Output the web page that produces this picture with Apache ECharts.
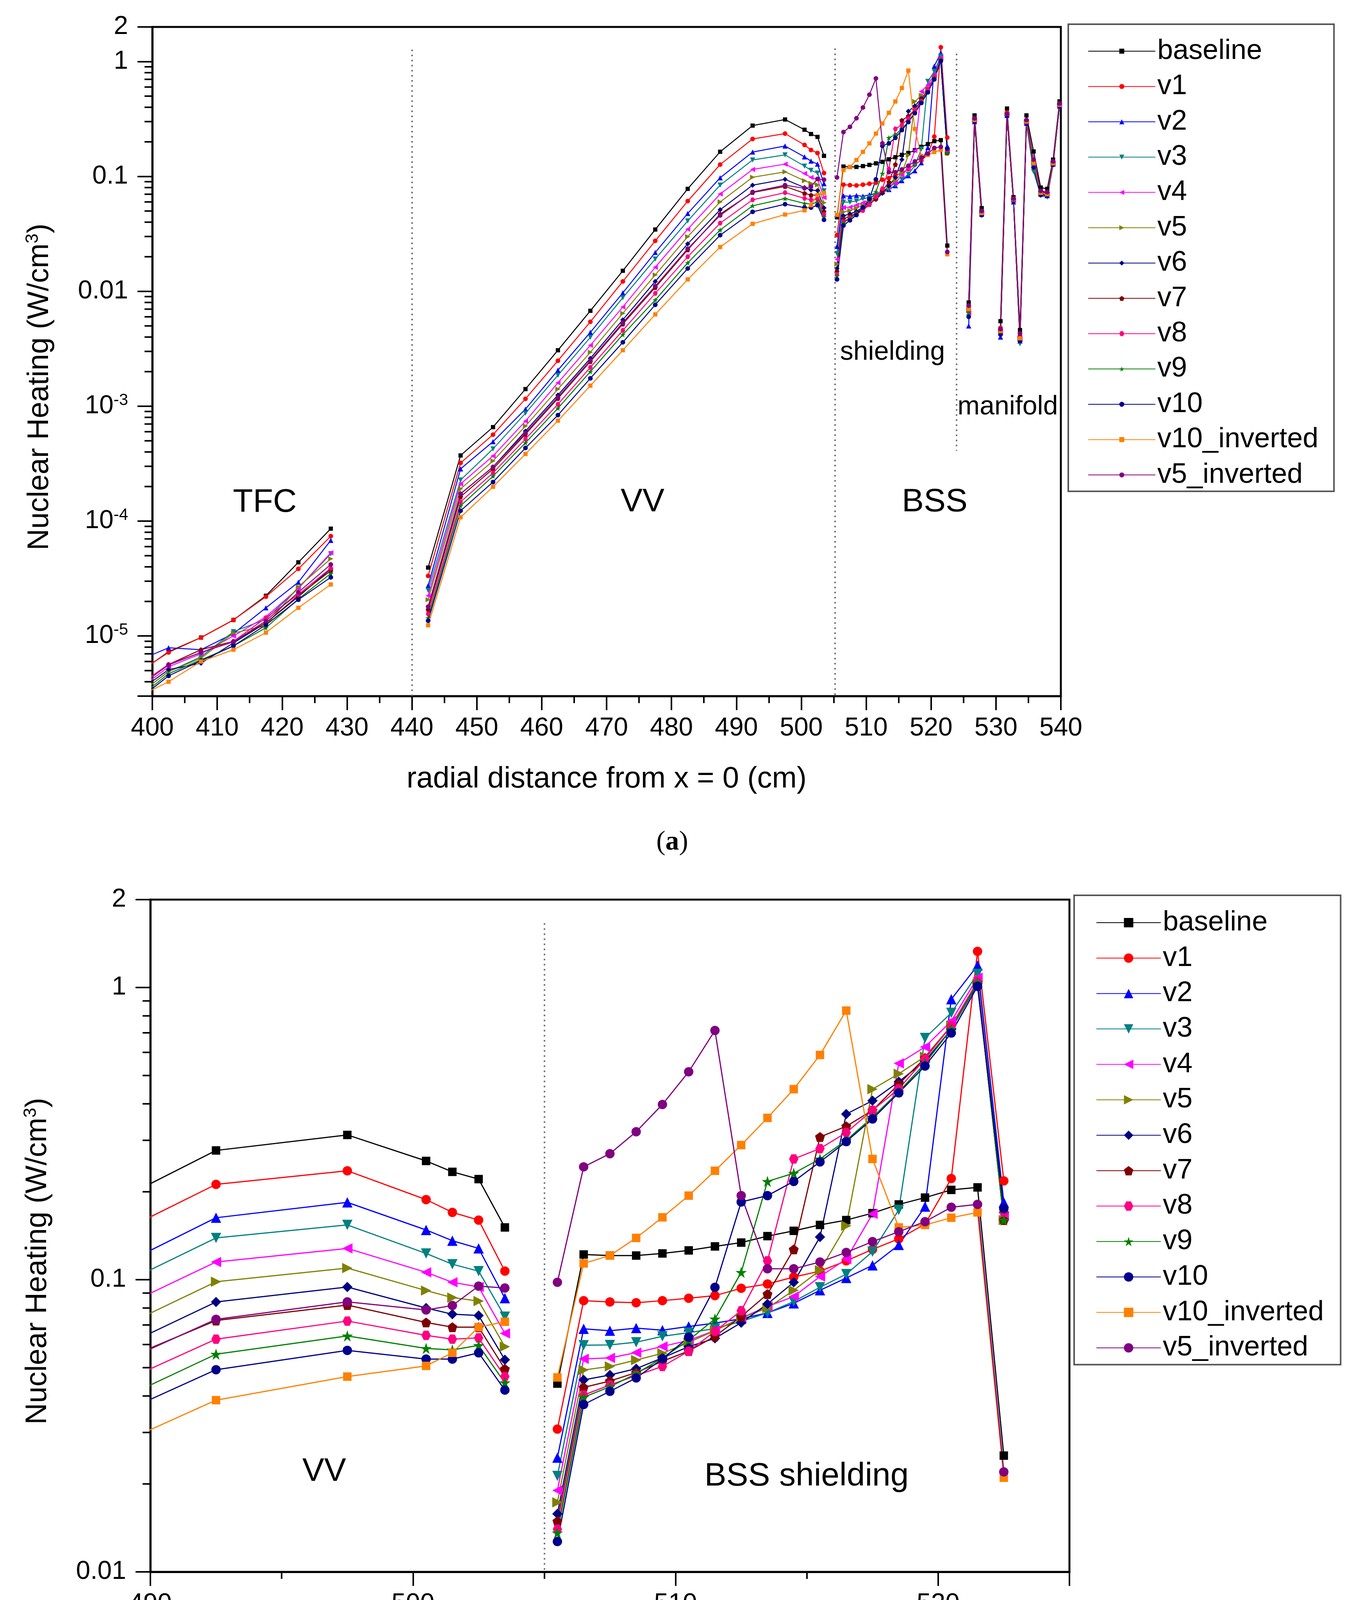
<!DOCTYPE html>
<html>
<head>
<meta charset="utf-8">
<script src="https://cdn.jsdelivr.net/npm/echarts@6/dist/echarts.min.js"></script>
<style>
html,body{margin:0;padding:0;background:#fff;}
#ca,#cb{position:absolute;left:0;top:0;width:3487px;height:4430px;}
</style>
</head>
<body>
<div id="ca"></div>
<div id="cb"></div>
<script>
// ---------------- DATA ----------------
const SERIES_NAMES = ['baseline','v1','v2','v3','v4','v5','v6','v7','v8','v9','v10','v10_inverted','v5_inverted'];

// radial positions (cm); null values in the series at the gap positions break the lines
const X_POS = [
  397.5,402.5,407.5,412.5,417.5,422.5,427.5,            // TFC
  435,                                                  // gap
  442.5,447.5,452.5,457.5,462.5,467.5,472.5,477.5,482.5,487.5,492.5,497.5,500.5,501.5,502.5,503.5, // VV
  504.5,                                                // gap
  505.5,506.5,507.5,508.5,509.5,510.5,511.5,512.5,513.5,514.5,515.5,516.5,517.5,518.5,519.5,520.5,521.5,522.5, // BSS shielding
  524.2,                                                // gap
  525.8,526.7,527.8,                                    // manifold
  529.2,                                                // gap
  530.7,531.7,532.7,533.7,534.7,535.8,536.9,537.9,538.8,539.8
];

const baseline = [
  4.6e-6,7.3e-6,9.7e-6,1.38e-5,2.24e-5,4.38e-5,8.6e-5, null,
  3.94e-5,3.73e-4,6.58e-4,1.41e-3,3.07e-3,6.77e-3,1.51e-2,3.45e-2,7.8e-2,0.164,0.277,0.313,0.255,0.234,0.221,0.151, null,
  0.0441,0.122,0.121,0.121,0.123,0.126,0.130,0.134,0.141,0.147,0.154,0.160,0.169,0.181,0.191,0.203,0.207,0.025, null,
  8.0e-3,0.34,0.053, null,
  5.5e-3,0.39,0.066,4.6e-3,0.34,0.165,0.080,0.078,0.14,0.45
];
const v1 = [
  4.7e-6,7.2e-6,9.7e-6,1.38e-5,2.2e-5,3.84e-5,7.4e-5, null,
  3.34e-5,3.21e-4,5.66e-4,1.16e-3,2.49e-3,5.43e-3,1.22e-2,2.75e-2,6.1e-2,0.127,0.212,0.236,0.188,0.170,0.160,0.107, null,
  0.0308,0.0848,0.0839,0.0834,0.0848,0.0864,0.0882,0.0935,0.0967,0.1021,0.107,0.116,0.127,0.138,0.155,0.222,1.33,0.218, null,
  7.5e-3,0.32,0.05, null,
  4.8e-3,0.36,0.064,4.1e-3,0.31,0.14,0.075,0.073,0.135,0.43
];
const v2 = [
  6.0e-6,7.9e-6,7.6e-6,1.05e-5,1.76e-5,2.94e-5,6.8e-5, null,
  2.74e-5,2.85e-4,4.92e-4,9.44e-4,2.06e-3,4.4e-3,9.7e-3,2.18e-2,4.76e-2,0.0974,0.163,0.184,0.148,0.136,0.128,0.0865, null,
  0.0246,0.0679,0.0669,0.0683,0.0672,0.0692,0.071,0.0735,0.077,0.083,0.092,0.1014,0.112,0.1315,0.178,0.912,1.19,0.184, null,
  5.0e-3,0.30,0.047, null,
  4.0e-3,0.34,0.060,3.7e-3,0.29,0.125,0.070,0.068,0.128,0.41
];
const v3 = [
  3.0e-6,4.9e-6,6.6e-6,1.09e-5,1.4e-5,2.6e-5,5.2e-5, null,
  2.5e-5,2.28e-4,4.25e-4,8.7e-4,1.86e-3,3.98e-3,8.8e-3,1.91e-2,4.1e-2,0.084,0.139,0.154,0.123,0.113,0.107,0.0747, null,
  0.0213,0.0597,0.0598,0.0611,0.064,0.0659,0.068,0.072,0.077,0.0842,0.0942,0.1045,0.1247,0.1734,0.672,0.819,1.114,0.17, null,
  6.0e-3,0.30,0.046, null,
  4.3e-3,0.34,0.061,3.5e-3,0.29,0.11,0.068,0.066,0.125,0.41
];
const v4 = [
  3.3e-6,5.4e-6,7.0e-6,1.0e-5,1.47e-5,2.6e-5,5.3e-5, null,
  2.24e-5,2.11e-4,3.69e-4,7.42e-4,1.6e-3,3.39e-3,7.3e-3,1.62e-2,3.47e-2,0.0703,0.115,0.128,0.106,0.098,0.0945,0.0655, null,
  0.019,0.0536,0.054,0.0563,0.0591,0.062,0.067,0.074,0.081,0.0876,0.1025,0.1176,0.168,0.55,0.626,0.768,1.08,0.165, null,
  6.5e-3,0.31,0.048, null,
  4.4e-3,0.35,0.062,3.8e-3,0.30,0.125,0.070,0.070,0.13,0.42
];
const v5 = [
  3.0e-6,4.9e-6,6.4e-6,1.06e-5,1.23e-5,2.68e-5,4.7e-5, null,
  2.07e-5,1.91e-4,3.34e-4,6.72e-4,1.41e-3,2.95e-3,6.43e-3,1.39e-2,2.99e-2,0.060,0.0984,0.1096,0.0918,0.0869,0.0845,0.059, null,
  0.0173,0.0491,0.0505,0.0531,0.056,0.061,0.067,0.074,0.080,0.092,0.1077,0.153,0.449,0.507,0.58,0.74,1.03,0.16, null,
  6.8e-3,0.31,0.049, null,
  4.5e-3,0.35,0.063,3.9e-3,0.30,0.13,0.072,0.071,0.13,0.42
];
const v6 = [
  3.2e-6,5.1e-6,5.8e-6,8.7e-6,1.3e-5,2.2e-5,3.85e-5, null,
  1.8e-5,1.73e-4,2.96e-4,6.08e-4,1.25e-3,2.61e-3,5.65e-3,1.22e-2,2.59e-2,0.0513,0.0839,0.0944,0.080,0.0762,0.0754,0.0532, null,
  0.0158,0.0454,0.0472,0.0496,0.054,0.059,0.063,0.0713,0.0826,0.098,0.140,0.369,0.41,0.476,0.56,0.72,1.03,0.17, null,
  7.0e-3,0.31,0.049, null,
  4.6e-3,0.35,0.063,4.0e-3,0.30,0.13,0.073,0.072,0.132,0.42
];
const v7 = [
  3.6e-6,5.65e-6,7.6e-6,9.0e-6,1.3e-5,2.25e-5,3.7e-5, null,
  1.7e-5,1.63e-4,2.85e-4,5.7e-4,1.17e-3,2.45e-3,5.2e-3,1.08e-2,2.3e-2,0.047,0.0725,0.0819,0.0714,0.0688,0.0688,0.0495, null,
  0.0149,0.0428,0.045,0.0481,0.0526,0.057,0.064,0.0748,0.0893,0.127,0.308,0.335,0.38,0.467,0.574,0.738,1.04,0.16, null,
  7.2e-3,0.31,0.05, null,
  4.6e-3,0.35,0.064,4.0e-3,0.30,0.135,0.074,0.072,0.133,0.42
];
const v8 = [
  3.6e-6,5.65e-6,7.2e-6,9.0e-6,1.44e-5,2.3e-5,3.9e-5, null,
  1.56e-5,1.47e-4,2.63e-4,5.18e-4,1.04e-3,2.18e-3,4.57e-3,9.6e-3,2.0e-2,0.0392,0.0626,0.0722,0.0645,0.0626,0.0632,0.0466, null,
  0.014,0.0403,0.0436,0.047,0.0505,0.0569,0.0666,0.0783,0.116,0.259,0.281,0.319,0.38,0.45,0.57,0.74,1.05,0.17, null,
  6.9e-3,0.31,0.049, null,
  4.5e-3,0.35,0.063,3.9e-3,0.30,0.13,0.072,0.071,0.13,0.42
];
const v9 = [
  2.8e-6,4.7e-6,6.2e-6,8.2e-6,1.18e-5,2.1e-5,3.5e-5, null,
  1.44e-5,1.36e-4,2.46e-4,4.8e-4,9.6e-4,2.0e-3,4.2e-3,8.4e-3,1.77e-2,0.0342,0.0556,0.0642,0.0582,0.0575,0.0596,0.0444, null,
  0.0136,0.0396,0.043,0.0477,0.054,0.0621,0.0734,0.106,0.217,0.2314,0.259,0.30,0.36,0.44,0.55,0.72,1.04,0.16, null,
  6.6e-3,0.31,0.048, null,
  4.4e-3,0.35,0.062,3.8e-3,0.30,0.125,0.070,0.069,0.128,0.42
];
const v10 = [
  2.7e-6,4.5e-6,6.1e-6,8.2e-6,1.25e-5,2.07e-5,3.24e-5, null,
  1.36e-5,1.23e-4,2.19e-4,4.33e-4,8.37e-4,1.75e-3,3.6e-3,7.64e-3,1.58e-2,0.0308,0.0492,0.0573,0.0535,0.0535,0.0562,0.0419, null,
  0.0127,0.0374,0.0415,0.0461,0.0536,0.0636,0.0942,0.1846,0.194,0.217,0.253,0.297,0.355,0.436,0.539,0.699,1.01,0.175, null,
  6.0e-3,0.30,0.046, null,
  4.2e-3,0.34,0.061,3.7e-3,0.29,0.12,0.069,0.068,0.127,0.41
];
const v10_inverted = [
  2.9e-6,4.0e-6,6.0e-6,7.6e-6,1.07e-5,1.76e-5,2.81e-5, null,
  1.24e-5,1.08e-4,1.99e-4,3.84e-4,7.48e-4,1.51e-3,3.07e-3,6.3e-3,1.27e-2,0.0243,0.0387,0.0466,0.0507,0.0562,0.0688,0.0718, null,
  0.0463,0.1137,0.121,0.139,0.1635,0.194,0.236,0.289,0.358,0.449,0.588,0.834,0.259,0.151,0.154,0.163,0.17,0.021, null,
  7.0e-3,0.31,0.048, null,
  4.5e-3,0.35,0.063,3.9e-3,0.30,0.13,0.072,0.070,0.13,0.42
];
const v5_inverted = [
  3.5e-6,5.6e-6,7.2e-6,8.9e-6,1.35e-5,2.4e-5,4.2e-5, null,
  1.8e-5,1.73e-4,2.96e-4,5.85e-4,1.2e-3,2.5e-3,5.35e-3,1.11e-2,2.35e-2,0.0458,0.0732,0.0840,0.0788,0.0816,0.0951,0.0937, null,
  0.098,0.2434,0.270,0.321,0.398,0.515,0.713,0.194,0.109,0.109,0.115,0.124,0.135,0.146,0.158,0.177,0.181,0.022, null,
  7.5e-3,0.32,0.05, null,
  4.7e-3,0.35,0.064,4.3e-3,0.31,0.14,0.075,0.073,0.135,0.43
];
const SERIES_VALUES = [baseline,v1,v2,v3,v4,v5,v6,v7,v8,v9,v10,v10_inverted,v5_inverted];

// axis tick values
const X_TICKS_A = [400,410,420,430,440,450,460,470,480,490,500,510,520,530,540];
const X_TICKS_B = [490,500,510,520];
const Y_MAJOR_LABELS = {'2':'2','1':'1','0.1':'0.1','0.01':'0.01'};

// ---------------- STYLE ----------------
const FONT = 'Liberation Sans, Arial, Helvetica, sans-serif';
const COLORS = ['#000000','#FF0000','#0000FF','#008080','#FF00FF','#808000','#000080','#800000','#FF0080','#008000','#00008C','#FF8000','#800080'];
const SYMBOLS = [
  'rect','circle','triangle',
  'path://M0,0L10,0L5,9Z',
  'path://M9,0L9,10L0,5Z',
  'path://M0,0L0,10L9,5Z',
  'diamond',
  'path://M5,0L10,3.6L8.1,9.5L1.9,9.5L0,3.6Z',
  'path://M2.5,0L7.5,0L10,5L7.5,10L2.5,10L0,5Z',
  'path://M5,0L6.2,3.6L10,3.6L6.9,5.9L8.1,9.5L5,7.3L1.9,9.5L3.1,5.9L0,3.6L3.8,3.6Z',
  'circle','rect','circle'
];
const SYMBOL_SCALE = [0.9,1,1.1,1.1,1.1,1.1,1.1,1.05,1,1.2,1,0.9,1];

for (const arr of SERIES_VALUES) { if (arr.length !== X_POS.length) console.error('length mismatch', arr.length); }

function yFmt(v) {
  if (Math.abs(v - 2) < 1e-6) return '2';
  const e = Math.log10(v), r = Math.round(e);
  if (Math.abs(e - r) > 1e-6) return '';
  const key = String(Math.pow(10, r) >= 0.01 ? +Math.pow(10, r).toFixed(2) : '');
  if (Y_MAJOR_LABELS[key]) return Y_MAJOR_LABELS[key];
  return '{b|10}{s|' + r + '}';
}

function minorTickValues(minExp, maxExp) {
  const out = [];
  for (let e = minExp; e <= maxExp; e++) for (let m = 2; m <= 9; m++) out.push(m * Math.pow(10, e));
  return out;
}

function buildOption(cfg) {
  const series = [];
  SERIES_NAMES.forEach((name, i) => {
    series.push({
      type: 'line', name: name,
      data: X_POS.map((x, k) => [x, SERIES_VALUES[i][k] == null ? NaN : SERIES_VALUES[i][k]]),
      symbol: SYMBOLS[i], symbolSize: cfg.sym * SYMBOL_SCALE[i],
      lineStyle: { color: COLORS[i], width: cfg.lw },
      itemStyle: { color: COLORS[i] },
      connectNulls: false, clip: true, animation: false, z: 3,
      emphasis: { disabled: true },
      markLine: i === 0 ? {
        symbol: 'none', silent: true, animation: false,
        label: { show: false },
        lineStyle: { color: '#707070', type: [4, 9], width: 4 },
        emphasis: { disabled: true },
        data: cfg.vlines.map(l => [{ coord: [l[0], l[1]] }, { coord: [l[0], l[2]] }])
      } : undefined
    });
  });
  // minor ticks of the log axis
  series.push({
    type: 'custom', silent: true, clip: false, animation: false, z: 10,
    data: minorTickValues(cfg.minorExp[0], cfg.minorExp[1]).filter(v => v > cfg.ymin && v < cfg.ymax).map(v => [cfg.xmin, v]),
    renderItem: function (p, api) {
      const c = api.coord([api.value(0), api.value(1)]);
      return { type: 'line', shape: { x1: c[0] - 20, y1: c[1], x2: c[0], y2: c[1] }, style: { stroke: '#000', lineWidth: 4 } };
    }
  });

  const textEls = cfg.texts.map(t => ({
    type: 'text', x: t[1], y: t[2], silent: true,
    style: { text: t[0], fill: '#000', fontSize: t[3], fontFamily: FONT, align: 'center', verticalAlign: 'middle' }
  }));
  textEls.push({
    type: 'text', x: cfg.caption[1], y: cfg.caption[2], silent: true,
    style: {
      text: '{p|(}{b|' + cfg.caption[0] + '}{p|)}', align: 'center', verticalAlign: 'middle',
      rich: {
        p: { fontSize: 70, fontFamily: 'Liberation Serif, Times New Roman, serif', fill: '#000' },
        b: { fontSize: 70, fontFamily: 'Liberation Serif, Times New Roman, serif', fontWeight: 'bold', fill: '#000' }
      }
    }
  });

  return {
    backgroundColor: cfg.bg,
    animation: false,
    grid: { left: cfg.grid[0], top: cfg.grid[1], width: cfg.grid[2], height: cfg.grid[3],
            show: true, borderColor: '#000', borderWidth: 5, backgroundColor: 'transparent', containLabel: false },
    legend: {
      orient: 'vertical', left: cfg.legend.left, top: cfg.legend.top,
      padding: cfg.legend.padding, itemGap: cfg.legend.gap,
      itemWidth: cfg.legend.itemWidth, itemHeight: cfg.legend.itemHeight,
      borderColor: '#555', borderWidth: 4, backgroundColor: '#fff',
      selectedMode: false,
      data: SERIES_NAMES,
      textStyle: { fontSize: 72, fontFamily: FONT, color: '#000', lineHeight: 72 }
    },
    xAxis: {
      type: 'value', min: cfg.xmin, max: cfg.xmax, interval: 10,
      name: 'radial distance from x = 0 (cm)', nameLocation: 'middle', nameGap: cfg.xNameGap,
      nameTextStyle: { fontSize: 76, fontFamily: FONT, color: '#000' },
      axisLine: { lineStyle: { color: '#000', width: 5 } },
      axisTick: { inside: false, length: 36, lineStyle: { color: '#000', width: 4 } },
      minorTick: { show: true, splitNumber: 2, length: 18, lineStyle: { color: '#000', width: 4 } },
      splitLine: { show: false }, minorSplitLine: { show: false },
      axisLabel: { margin: 50, fontSize: 66, fontFamily: FONT, color: '#000',
        formatter: v => (cfg.xTicks.indexOf(Math.round(v)) >= 0 && Math.abs(v - Math.round(v)) < 1e-6) ? String(Math.round(v)) : '' }
    },
    yAxis: {
      type: 'log', logBase: 10, min: cfg.ymin, max: cfg.ymax,
      name: '{n|Nuclear Heating (W/cm}{s|3}{n|)}', nameLocation: 'middle', nameRotate: 90, nameGap: cfg.yNameGap,
      nameTextStyle: { fontSize: 76, fontFamily: FONT, color: '#000', padding: [0, 130, 0, 0],
        rich: { n: { fontSize: 76, lineHeight: 76, fontFamily: FONT, color: '#000' },
                s: { fontSize: 46, lineHeight: 46, fontFamily: FONT, color: '#000', padding: [0, 0, 36, 0] } } },
      axisLine: { lineStyle: { color: '#000', width: 5 } },
      axisTick: { inside: false, length: 38, lineStyle: { color: '#000', width: 4 } },
      splitLine: { show: false },
      axisLabel: { margin: 62, fontSize: 66, fontFamily: FONT, color: '#000', showMaxLabel: true, showMinLabel: true,
        formatter: yFmt,
        rich: { b: { fontSize: 66, fontFamily: FONT, color: '#000' },
                s: { fontSize: 42, lineHeight: 42, fontFamily: FONT, color: '#000', padding: [0, 0, 30, 0] } } }
    },
    graphic: textEls,
    series: series
  };
}

const cfgA = {
  bg: '#ffffff',
  grid: [390, 69, 2326, 1713],
  xmin: 400, xmax: 540, ymin: 3e-6, ymax: 2, xTicks: X_TICKS_A, minorExp: [-6, -1],
  sym: 12, lw: 2.5, xNameGap: 175, yNameGap: 250,
  legend: { left: 2735, top: 62, padding: [33, 40, 6, 50], gap: 18.4, itemWidth: 172, itemHeight: 16 },
  vlines: [[440, 1.27, 3e-6], [505.2, 1.3, 3e-6], [523.9, 1.17, 4.1e-4]],
  texts: [['TFC', 678, 1287, 84], ['VV', 1645, 1286, 84], ['BSS', 2393, 1286, 84],
          ['shielding', 2285, 902, 68], ['manifold', 2580, 1042, 68]],
  caption: ['a', 1721, 2157]
};
const cfgB = {
  bg: 'transparent',
  grid: [385, 2303, 2353, 1721],
  xmin: 490, xmax: 525, ymin: 0.01, ymax: 2, xTicks: X_TICKS_B, minorExp: [-2, -1],
  sym: 24, lw: 3, xNameGap: 160, yNameGap: 250,
  legend: { left: 2750, top: 2292, padding: [34, 43, 7, 56], gap: 18.7, itemWidth: 165, itemHeight: 30 },
  vlines: [[505, 1.66, 0.01]],
  texts: [['VV', 830, 3768, 84], ['BSS shielding', 2065, 3780, 84]],
  caption: ['b', 1721, 4345]
};

const chartA = echarts.init(document.getElementById('ca'), null, { renderer: 'canvas' });
chartA.setOption(buildOption(cfgA));
const chartB = echarts.init(document.getElementById('cb'), null, { renderer: 'canvas' });
chartB.setOption(buildOption(cfgB));
</script>
</body>
</html>
